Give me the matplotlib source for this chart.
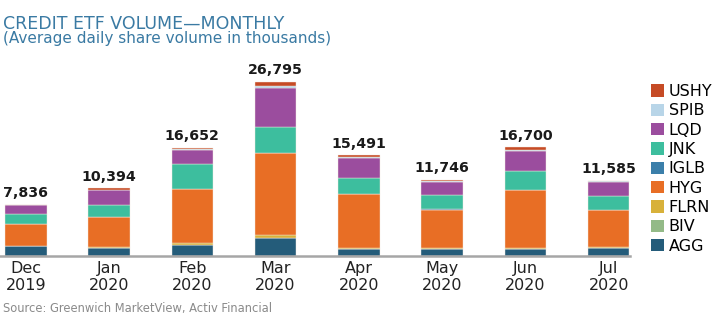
import numpy as np
import matplotlib
matplotlib.use("Agg")
import matplotlib.pyplot as plt
from matplotlib.patches import Patch

plt.rcParams['font.family'] = ['DejaVu Sans']

# ------------------------------------------------------------
# Average daily share volume (thousands) by ETF, monthly
# ------------------------------------------------------------
months = ["Dec\n2019", "Jan\n2020", "Feb\n2020", "Mar\n2020",
          "Apr\n2020", "May\n2020", "Jun\n2020", "Jul\n2020"]
totals = [7836, 10394, 16652, 26795, 15491, 11746, 16700, 11585]

agg  = [1480, 1200, 1700, 2700, 1050, 1070, 1020, 1150]
biv  = [30, 40, 20, 60, 30, 30, 30, 30]
flrn = [90, 150, 200, 480, 200, 140, 180, 140]
iglb = [20, 30, 20, 40, 30, 20, 30, 20]
hyg  = [3300, 4600, 8390, 12600, 8250, 5900, 8900, 5750]
jnk  = [1500, 1800, 3740, 4000, 2500, 2200, 2850, 2200]
lqd  = [1350, 2300, 2300, 5900, 3050, 2000, 3100, 2050]
spib = [20, 60, 20, 350, 140, 180, 250, 120]
ushy = [46, 214, 262, 665, 241, 206, 340, 125]

tickers = ["AGG", "BIV", "FLRN", "HYG", "IGLB", "JNK", "LQD", "SPIB", "USHY"]
series = [agg, biv, flrn, hyg, iglb, jnk, lqd, spib, ushy]
colors = ["#245c7a", "#93ba87", "#d8b13a", "#e86e25", "#3b7faa",
          "#3dbe9e", "#9b4d9e", "#b8d5e8", "#c64b25"]

fig = plt.figure(figsize=(7.13, 3.26), dpi=100)
ax = fig.add_axes([0.0, 0.215, 0.884, 0.598])

x = np.arange(len(months))
bottom = np.zeros(len(months))
for vals, c in zip(series, colors):
    ax.bar(x, vals, width=0.5, bottom=bottom, color=c,
           edgecolor="#f4e9e0", linewidth=0.3)
    bottom += np.array(vals)

for xi, t in zip(x, totals):
    ax.text(xi, t + 700, f"{t:,}", ha="center", va="bottom",
            fontsize=10.2, fontweight="bold", color="#1a1a1a")

ax.set_xlim(-0.31, 7.26)
ax.set_ylim(0, 30000)
ax.set_xticks(x)
ax.set_xticklabels(months, fontsize=11.5, color="#222222", linespacing=1.15)
ax.tick_params(axis="x", length=0, pad=4)
ax.set_yticks([])
for side in ["top", "right", "left"]:
    ax.spines[side].set_visible(False)
ax.spines["bottom"].set_color("#a6a6a6")
ax.spines["bottom"].set_linewidth(1.8)

# legend, top to bottom USHY ... AGG
handles = [Patch(facecolor=c, edgecolor="none") for c in colors][::-1]
fig.legend(handles, tickers[::-1], loc="upper left",
           bbox_to_anchor=(0.913, 0.742), frameon=False, fontsize=11.5,
           handlelength=0.8, handleheight=0.8, handletextpad=0.3,
           labelspacing=0.27, borderpad=0, borderaxespad=0)

fig.text(0.004, 0.955, "CREDIT ETF VOLUME\u2014MONTHLY", fontsize=12.5,
         color="#3a7aa3", va="top", ha="left")
fig.text(0.004, 0.905, "(Average daily share volume in thousands)",
         fontsize=11, color="#3a7aa3", va="top", ha="left")
fig.text(0.004, 0.035, "Source: Greenwich MarketView, Activ Financial",
         fontsize=8.3, color="#8a8a8a", va="bottom", ha="left")

fig.savefig("out.png", dpi=100)
